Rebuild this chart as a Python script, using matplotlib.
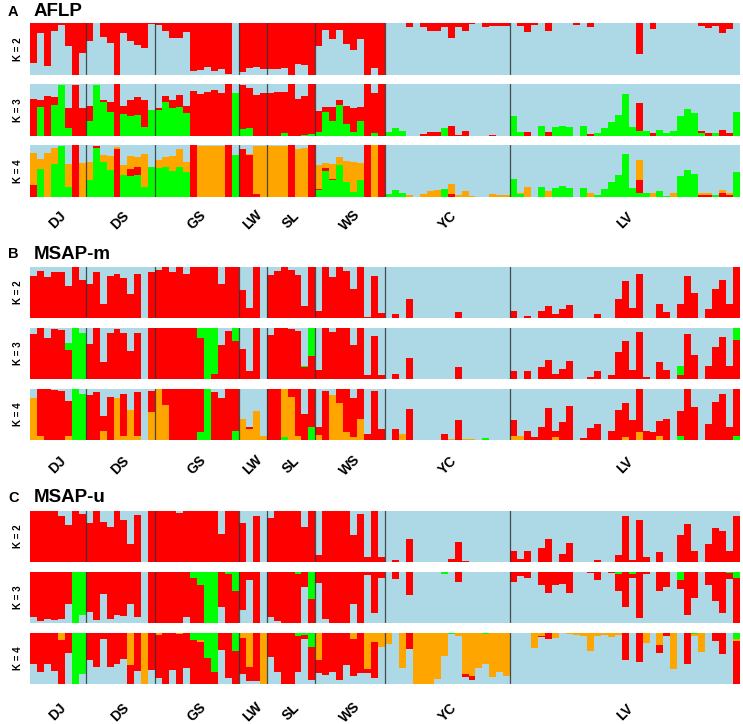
import matplotlib
matplotlib.use("Agg")
import matplotlib.pyplot as plt
import numpy as np

plt.rcParams["font.family"] = ["Liberation Sans", "DejaVu Sans"]

# Populations and their sizes (individuals, left to right)
pops = ["DJ", "DS", "GS", "LW", "SL", "WS", "YC", "LV"]
pop_sizes = [8, 10, 12, 4, 7, 10, 18, 33]

BLUE = "#add8e6"
RED = "#ff0000"
GREEN = "#00ff00"
ORANGE = "#ffa500"

# ---------------- Panel A: AFLP ----------------
a_k2_red = [0.76, 0.19, 0.83, 0.16, 0.03, 0.44, 1.0, 0.57,
            0.34, 0.0, 0.26, 0.39, 1.0, 0.19, 0.35, 0.42, 0.48, 0.01,
            0.03, 0.16, 0.29, 0.29, 0.18, 0.92, 0.90, 0.84, 0.92, 0.89, 0.98, 0.0,
            0.95, 0.86, 0.84, 0.88,
            0.88, 0.88, 0.87, 1.0, 0.79, 0.81, 1.0,
            0.45, 0.13, 0.31, 0.14, 0.40, 0.52, 0.31, 1.0, 0.87, 1.0,
            0, 0, 0, 0.08, 0, 0.08, 0.16, 0.16, 0.08, 0.29, 0.08, 0.16, 0.02, 0, 0.08, 0.06, 0.06, 0.05,
            0, 0.05, 0.17, 0.03, 0, 0.15, 0, 0, 0, 0.03, 0, 0.08, 0, 0, 0, 0, 0,
            0, 0.6, 0, 0.12, 0, 0, 0, 0, 0, 0, 0.05, 0.1, 0.05, 0.19, 0.12, 0]

a_k3_green = [0, 0.55, 0, 0.60, 0.98, 0.15, 0, 0,
              0.29, 0.98, 0.66, 0.47, 0, 0.42, 0.39, 0.40, 0.18, 0.5,
              0.5, 0.66, 0.53, 0.55, 0.45, 0, 0, 0, 0, 0, 0, 0.82,
              0.13, 0.16, 0, 0,
              0, 0, 0.05, 0, 0, 0.02, 0.03,
              0.08, 0.47, 0.29, 0.6, 0.24, 0.08, 0.28, 0, 0.06, 0,
              0.08, 0.15, 0.1, 0, 0, 0, 0, 0, 0.15, 0, 0, 0, 0, 0, 0, 0, 0, 0,
              0.38, 0.08, 0, 0, 0.19, 0, 0.18, 0.2, 0.18, 0, 0.19, 0, 0.05, 0.16, 0.27, 0.40, 0.8,
              0.18, 0.1, 0.1, 0, 0.12, 0.05, 0.1, 0.39, 0.52, 0.44, 0.06, 0, 0.06, 0, 0, 0.47]
a_k3_red = [0.72, 0.14, 0.76, 0.15, 0, 0.38, 0.98, 0.53,
            0.28, 0, 0.03, 0.19, 1.0, 0.15, 0.30, 0.35, 0.51, 0,
            0.03, 0.1, 0.16, 0.24, 0.13, 0.87, 0.80, 0.85, 0.88, 0.82, 1.0, 0,
            0.85, 0.76, 0.79, 0.82,
            0.82, 0.84, 0.79, 1.0, 0.72, 0.74, 0.97,
            0.4, 0.08, 0.27, 0.1, 0.33, 0.45, 0.28, 1.0, 0.76, 1.0,
            0, 0, 0, 0, 0, 0.03, 0.08, 0.07, 0, 0.19, 0.02, 0.1, 0, 0, 0, 0.02, 0, 0,
            0, 0, 0.08, 0, 0, 0.08, 0, 0, 0, 0, 0, 0.04, 0, 0, 0, 0, 0,
            0, 0.53, 0, 0.06, 0, 0, 0, 0, 0, 0, 0.03, 0.05, 0, 0.12, 0.05, 0]

a_k4_green = [0, 0.53, 0, 0.63, 0.99, 0.19, 0, 0,
              0.32, 0.95, 0.68, 0.52, 0, 0.42, 0.4, 0.43, 0.2, 0.58,
              0.56, 0.58, 0.50, 0.58, 0.48, 0, 0, 0, 0, 0, 0, 0.81,
              0, 0, 0, 0,
              0, 0, 0, 0, 0, 0, 0,
              0.13, 0.5, 0.32, 0.61, 0.29, 0.1, 0.32, 0, 0, 0,
              0.06, 0.13, 0.08, 0, 0, 0, 0, 0, 0.15, 0, 0, 0, 0, 0, 0, 0, 0, 0,
              0.34, 0.05, 0, 0, 0.19, 0, 0.17, 0.21, 0.17, 0, 0.17, 0, 0.03, 0.15, 0.28, 0.43, 0.83,
              0.17, 0.08, 0.08, 0, 0.11, 0.02, 0, 0.41, 0.52, 0.45, 0, 0, 0.04, 0, 0, 0.48]
a_k4_red = [0.23, 0, 0, 0, 0, 0, 1.0, 0,
            0, 0.03, 0, 0, 0.92, 0, 0.13, 0.15, 0, 0,
            0, 0, 0, 0, 0, 1.0, 0, 0, 0, 0, 1.0, 0,
            0.92, 0.8, 0.05, 0,
            0, 0, 0, 1.0, 0, 0, 1.0,
            0.03, 0.05, 0.03, 0, 0, 0, 0, 1.0, 0, 1.0,
            0, 0, 0, 0, 0, 0, 0, 0, 0, 0.06, 0, 0, 0, 0, 0, 0, 0, 0,
            0, 0, 0, 0, 0, 0, 0, 0, 0, 0, 0, 0, 0, 0, 0, 0, 0,
            0, 0.25, 0, 0, 0, 0, 0, 0, 0, 0, 0.03, 0.03, 0, 0.08, 0.04, 0]
a_k4_orange = [0.61, 0.21, 0.84, 0.31, 0, 0.45, 0, 0.65,
               0.35, 0, 0.13, 0.26, 0.05, 0.19, 0.25, 0.19, 0.63, 0,
               0.15, 0.19, 0.28, 0.34, 0.19, 0, 0.98, 0.98, 0.98, 0.98, 0, 0,
               0, 0.03, 0.93, 0.99,
               0.99, 0.99, 0.99, 0, 0.92, 0.94, 0,
               0.45, 0.1, 0.29, 0.16, 0.4, 0.58, 0.33, 0, 1.0, 0,
               0, 0, 0, 0.03, 0, 0.06, 0.11, 0.13, 0, 0.19, 0.03, 0.11, 0.02, 0, 0, 0.05, 0.04, 0.03,
               0, 0.02, 0.19, 0, 0, 0.11, 0, 0, 0, 0, 0, 0.08, 0, 0, 0, 0, 0,
               0, 0.39, 0, 0.08, 0, 0, 0.08, 0, 0, 0, 0.05, 0.05, 0, 0.06, 0.04, 0]

# ---------------- Panel B: MSAP-m ----------------
b_k2_red = [0.82, 0.93, 0.80, 0.90, 0.91, 0.63, 1.0, 0.74,
            0.67, 0.91, 0.27, 0.82, 0.86, 0.78, 0.48, 0.86, 0.0, 0.91,
            0.95, 1.0, 0.91, 1.0, 0.87, 1.0, 1.0, 1.0, 1.0, 0.67, 1.0, 1.0,
            0.54, 0.2, 1.0, 0.0,
            0.84, 0.92, 1.0, 0.95, 0.84, 0.23, 1.0,
            0.14, 1.0, 0.80, 1.0, 0.93, 0.56, 1.0, 0.01, 0.82, 0.1,
            0, 0.07, 0, 0.38, 0, 0, 0, 0, 0, 0, 0.12, 0, 0, 0, 0, 0, 0, 0,
            0.13, 0, 0.03, 0, 0.14, 0.24, 0.08, 0.18, 0.26, 0, 0, 0, 0.08, 0, 0, 0.38, 0.72,
            0.2, 0.86, 0, 0, 0.27, 0.12, 0, 0.27, 0.82, 0.5, 0, 0.18, 0.57, 0.75, 0.27, 1.0]

b_k3_red = [0.88, 1.0, 0.80, 0.98, 0.97, 0.56, 0, 0,
            0.69, 1.0, 0.33, 0.9, 0.98, 0.9, 0.54, 0.9, 0, 1.0,
            1.0, 1.0, 1.0, 1.0, 1.0, 1.0, 0.8, 0, 0.1, 0.66, 0.95, 0.75,
            0.58, 0.16, 1.0, 0,
            0.87, 1.0, 1.0, 0.98, 0.95, 0.23, 0.46,
            0.18, 1.0, 0.92, 1.0, 1.0, 0.67, 1.0, 0.07, 0.85, 0.07,
            0, 0.1, 0, 0.41, 0, 0, 0, 0, 0, 0, 0.23, 0, 0, 0, 0, 0, 0, 0,
            0.16, 0, 0.16, 0, 0.23, 0.38, 0.1, 0.2, 0.36, 0, 0, 0.03, 0.16, 0, 0.07, 0.52, 0.74,
            0.18, 0.92, 0.03, 0, 0.33, 0.17, 0, 0.08, 0.89, 0.48, 0, 0.26, 0.62, 0.82, 0.25, 0.77]
b_k3_green = [0, 0, 0, 0, 0, 0.14, 1.0, 0.9,
              0, 0, 0, 0, 0, 0, 0, 0, 0, 0,
              0, 0, 0, 0, 0, 0, 0.2, 1.0, 0.9, 0, 0, 0.25,
              0, 0, 0, 0,
              0, 0, 0, 0, 0, 0.02, 0.54,
              0, 0, 0, 0, 0, 0, 0, 0, 0, 0,
              0, 0, 0, 0, 0, 0, 0, 0, 0, 0, 0, 0, 0, 0, 0, 0, 0, 0,
              0, 0, 0, 0, 0, 0, 0, 0, 0, 0, 0, 0, 0, 0, 0, 0, 0,
              0, 0, 0, 0, 0, 0, 0, 0.18, 0, 0, 0, 0, 0, 0, 0, 0.23]

b_k4_green = [0, 0, 0, 0, 0, 0, 1.0, 0.9,
              0, 0, 0, 0, 0, 0, 0, 0, 0, 0,
              0, 0, 0, 0, 0, 0, 0.16, 1.0, 0, 0, 0, 0.18,
              0, 0, 0, 0,
              0, 0, 0.05, 0, 0, 0, 0.25,
              0, 0, 0, 0, 0, 0, 0, 0, 0, 0,
              0, 0, 0, 0, 0, 0, 0, 0, 0, 0, 0, 0, 0, 0, 0.03, 0, 0, 0,
              0, 0, 0, 0, 0, 0, 0, 0, 0, 0, 0, 0, 0, 0, 0, 0, 0,
              0, 0, 0, 0, 0, 0, 0, 0.08, 0, 0, 0, 0, 0, 0, 0, 0.08]
b_k4_orange = [0.83, 0.08, 0, 0, 0, 0.07, 0, 0,
               0, 0, 0.18, 0, 0.82, 0.08, 0.59, 0.08, 0, 0.54,
               1.0, 0.69, 0, 0, 0, 0, 0, 0, 0, 0, 0, 0,
               0.41, 0.22, 0.57, 0.07,
               0, 0, 0.95, 0.85, 0.08, 0, 0,
               0.1, 0, 0.88, 0.72, 0.16, 0.05, 0.41, 0, 0, 0,
               0, 0, 0.11, 0, 0, 0, 0, 0, 0, 0.02, 0, 0.02, 0.02, 0, 0, 0, 0, 0,
               0.08, 0.08, 0, 0, 0, 0, 0.05, 0, 0, 0, 0, 0, 0, 0, 0, 0, 0.05,
               0, 0.15, 0, 0, 0.08, 0, 0, 0, 0, 0, 0, 0, 0, 0, 0, 0]
b_k4_red = [0, 0.92, 1.0, 0.98, 0.97, 0.7, 0, 0,
            0.88, 0.95, 0.30, 0.85, 0, 0.83, 0, 0.87, 0, 0.42,
            0, 0.31, 1.0, 1.0, 1.0, 1.0, 0.84, 0, 0.95, 0.82, 1.0, 0.82,
            0, 0.03, 0, 0,
            1.0, 1.0, 0, 0.15, 0.92, 0.51, 0.75,
            0.16, 0.97, 0, 0.28, 0.84, 0.77, 0.59, 0.12, 0.97, 0.22,
            0, 0.22, 0, 0.61, 0, 0, 0, 0, 0.11, 0, 0.39, 0, 0, 0, 0, 0, 0, 0,
            0.31, 0, 0.18, 0.05, 0.26, 0.62, 0.13, 0.35, 0.67, 0, 0.03, 0.24, 0.31, 0, 0.18, 0.58, 0.68,
            0.39, 0.85, 0.18, 0.15, 0.29, 0.42, 0, 0.49, 1.0, 0.64, 0, 0.31, 0.75, 0.9, 0.25, 0.92]

# ---------------- Panel C: MSAP-u ----------------
c_k2_red = [1.0, 1.0, 1.0, 1.0, 0.91, 0.73, 1.0, 0.94,
            0.76, 1.0, 0.79, 0.69, 1.0, 0.82, 0.36, 0.92, 0.0, 1.0,
            1.0, 1.0, 1.0, 0.97, 1.0, 1.0, 1.0, 1.0, 1.0, 0.55, 1.0, 1.0,
            0.76, 0, 0.91, 0,
            0.86, 1.0, 1.0, 1.0, 1.0, 0.69, 1.0,
            0.14, 1.0, 1.0, 1.0, 1.0, 0.53, 0.94, 0.09, 1.0, 0.09,
            0, 0.03, 0, 0.45, 0, 0, 0, 0, 0, 0.06, 0.40, 0.02, 0, 0, 0, 0, 0, 0,
            0.22, 0.06, 0.22, 0, 0.27, 0.45, 0, 0.16, 0.38, 0, 0, 0, 0.03, 0, 0, 0.14, 0.91,
            0.03, 0.82, 0.09, 0, 0.19, 0, 0, 0.53, 0.74, 0.22, 0, 0.36, 0.66, 0.6, 0.21, 0.91]

c_k3_red = [0.88, 0.97, 0.93, 0.95, 0.93, 0.62, 0, 0,
            0.78, 0.95, 0.44, 0.93, 0.85, 0.86, 0.62, 0.88, 0, 1.0,
            1.0, 1.0, 1.0, 1.0, 0.88, 0.88, 0.74, 0, 0, 0.68, 0.97, 0.62,
            0.74, 0.15, 1.0, 0,
            0.88, 0.97, 1.0, 1.0, 0.96, 0.3, 0.48,
            0.22, 0.93, 1.0, 1.0, 1.0, 0.62, 1.0, 0.05, 0.81, 0.12,
            0, 0.14, 0, 0.45, 0, 0, 0, 0, 0, 0, 0.2, 0, 0, 0, 0, 0, 0, 0,
            0.19, 0.07, 0.11, 0, 0.26, 0.42, 0.26, 0.23, 0.42, 0, 0, 0.02, 0.16, 0, 0.02, 0.35, 0.68,
            0.09, 0.91, 0.03, 0, 0.38, 0.3, 0, 0.19, 0.85, 0.5, 0, 0.26, 0.56, 0.81, 0.12, 0.88]
c_k3_green = [0, 0, 0, 0, 0, 0, 1.0, 0.85,
              0, 0, 0, 0, 0, 0, 0, 0, 0, 0,
              0, 0, 0, 0, 0, 0.12, 0.26, 1.0, 1.0, 0, 0.03, 0.38,
              0, 0, 0, 0,
              0, 0, 0, 0, 0.04, 0, 0.52,
              0, 0, 0, 0, 0, 0, 0, 0, 0, 0,
              0, 0, 0, 0, 0, 0, 0, 0, 0.03, 0, 0, 0, 0, 0, 0, 0, 0, 0,
              0, 0, 0, 0, 0, 0, 0, 0, 0, 0, 0, 0, 0, 0, 0, 0.03, 0,
              0.03, 0, 0, 0, 0, 0, 0, 0.15, 0, 0, 0, 0, 0, 0, 0.02, 0.12]

c_k4_red = [0.6, 0.76, 0.61, 0.74, 0.87, 0.39, 0, 0,
            0.53, 0.66, 0.11, 0.66, 0.61, 0.51, 0.37, 0.75, 0, 0.73,
            0.86, 1.0, 0.73, 0.98, 0.69, 0.86, 0.83, 0.51, 0.23, 0.34, 0.89, 0.64,
            0.72, 0.29, 0.95, 0,
            0.47, 0.77, 1.0, 1.0, 0.71, 0.09, 0.65,
            0.26, 0.82, 0.76, 0.92, 0.63, 0.73, 0.79, 0.08, 0.71, 0,
            0, 0, 0, 0.31, 0, 0, 0, 0, 0, 0, 0, 0.05, 0.08, 0, 0, 0, 0, 0,
            0, 0, 0, 0, 0.03, 0.11, 0, 0, 0, 0, 0, 0, 0, 0, 0, 0, 0.53,
            0, 0.56, 0, 0, 0.16, 0.05, 0, 0, 0.6, 0, 0, 0, 0.16, 0.42, 0, 0.84]
c_k4_orange = [0, 0, 0, 0, 0.13, 0, 0, 0,
               0, 0, 0, 0, 0, 0, 0.63, 0, 1.0, 0,
               0.03, 0, 0, 0.02, 0, 0, 0.03, 0, 0, 0, 0, 0,
               0.09, 0.66, 0, 1.0,
               0, 0, 0, 0, 0, 0, 0,
               0.53, 0, 0, 0, 0, 0.11, 0, 0.71, 0.18, 0.27,
               0.22, 0, 0.68, 0, 1.0, 1.0, 1.0, 0.9, 0.45, 0, 0.06, 0.81, 0.84, 0.69, 0.58, 0.87, 0.76, 0.84,
               0, 0, 0, 0.29, 0.05, 0, 0.1, 0, 0.02, 0.03, 0.05, 0.35, 0.06, 0.03, 0.08, 0.03, 0,
               0, 0, 0.19, 0, 0.24, 0, 0.71, 0, 0, 0.03, 0.37, 0, 0, 0, 0, 0.05]
c_k4_green = [0, 0, 0, 0, 0, 0, 1.0, 0.8,
              0, 0, 0, 0, 0, 0, 0, 0, 0, 0,
              0, 0, 0, 0, 0, 0.14, 0.14, 0.49, 0.77, 0, 0, 0.36,
              0, 0, 0, 0,
              0, 0, 0, 0, 0.05, 0.03, 0.27,
              0, 0, 0, 0, 0, 0, 0, 0, 0, 0,
              0, 0, 0, 0, 0, 0, 0, 0, 0, 0.02, 0, 0, 0, 0, 0.02, 0, 0, 0,
              0, 0, 0, 0, 0, 0, 0, 0, 0, 0, 0, 0, 0, 0, 0, 0, 0,
              0, 0, 0, 0, 0, 0, 0, 0, 0, 0.02, 0, 0, 0, 0, 0, 0.11]

# panels: (letter, title, [rows]); each row = [(values or None, colour)] bottom->top
# None marks the component that fills the rest of the bar
panels = [
    ("A", "AFLP", [
        [(None, BLUE), (a_k2_red, RED)],
        [(a_k3_green, GREEN), (a_k3_red, RED), (None, BLUE)],
        [(a_k4_green, GREEN), (a_k4_red, RED), (a_k4_orange, ORANGE), (None, BLUE)],
    ]),
    ("B", "MSAP-m", [
        [(b_k2_red, RED), (None, BLUE)],
        [(b_k3_red, RED), (b_k3_green, GREEN), (None, BLUE)],
        [(b_k4_green, GREEN), (b_k4_orange, ORANGE), (b_k4_red, RED), (None, BLUE)],
    ]),
    ("C", "MSAP-u", [
        [(c_k2_red, RED), (None, BLUE)],
        [(None, BLUE), (c_k3_red, RED), (c_k3_green, GREEN)],
        [(None, BLUE), (c_k4_red, RED), (c_k4_orange, ORANGE), (c_k4_green, GREEN)],
    ]),
]

# layout in pixels
W, H = 743, 724
X0, X1 = 30, 740
row_px = [[(23, 75), (84, 136), (145, 197)],
          [(267, 318), (328, 379), (389, 440)],
          [(511, 562), (572, 623), (633, 684)]]
title_y = [12, 254, 498]
label_y = [220, 465, 712]

n = sum(pop_sizes)
x = np.arange(n)
bounds = np.cumsum(pop_sizes)
centers = bounds - np.array(pop_sizes) / 2

fig = plt.figure(figsize=(W / 100, H / 100), dpi=100)

for p, (letter, name, rows) in enumerate(panels):
    fig.text(8 / W, 1 - title_y[p] / H, letter, fontsize=10.5, fontweight="bold",
             va="center", ha="left")
    fig.text(34 / W, 1 - title_y[p] / H, name, fontsize=13.5, fontweight="bold",
             va="center", ha="left")
    for r, comps in enumerate(rows):
        top, bot = row_px[p][r]
        ax = fig.add_axes([X0 / W, 1 - bot / H, (X1 - X0) / W, (bot - top) / H])
        given = [np.array(v, dtype=float) for v, c in comps if v is not None]
        rest = np.clip(1 - np.sum(given, axis=0), 0, 1)
        bottom = np.zeros(n)
        for v, c in comps:
            vals = rest if v is None else np.array(v, dtype=float)
            ax.bar(x, vals, width=1.0, bottom=bottom, color=c, align="edge",
                   linewidth=0)
            bottom += vals
        for b in bounds[:-1]:
            ax.axvline(b, color="#333333", lw=0.9, alpha=0.85)
        ax.set_xlim(0, n)
        ax.set_ylim(0, 1)
        ax.axis("off")
        fig.text(18 / W, 1 - (top + bot) / 2 / H, "K = %d" % (r + 2), rotation=90,
                 fontsize=7, fontweight="bold", va="center", ha="center")
        if r == 2:
            for c, lab in zip(centers, pops):
                xp = X0 + c / n * (X1 - X0)
                fig.text(xp / W, 1 - label_y[p] / H, lab, rotation=45, fontsize=10,
                         fontweight="bold", va="center", ha="center")

fig.savefig("out.png", dpi=100)
